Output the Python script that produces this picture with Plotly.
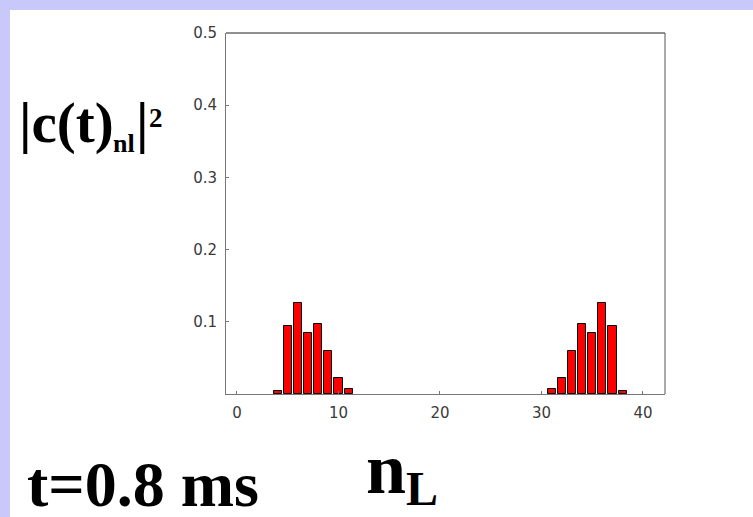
import plotly.graph_objects as go

# ---- data ----
n_levels = [4, 5, 6, 7, 8, 9, 10, 11, 31, 32, 33, 34, 35, 36, 37, 38]
populations = [0.004, 0.094, 0.126, 0.085, 0.097, 0.060, 0.022, 0.007,
               0.007, 0.022, 0.060, 0.097, 0.085, 0.126, 0.094, 0.004]
x_ticks = [0, 10, 20, 30, 40]
y_ticks = [0.1, 0.2, 0.3, 0.4, 0.5]
y_tick_text = ["0.1", "0.2", "0.3", "0.4", "0.5"]

W, H = 753, 517
L, R, T, B = 226, 665, 33, 394  # plot area in pixels

def px(x):
    return (x - L) / (R - L)

def py(y):
    return (B - y) / (B - T)

fig = go.Figure()
fig.add_trace(go.Bar(
    x=n_levels, y=populations, width=0.8,
    marker=dict(color="#ff0000", line=dict(color="#000000", width=1)),
    showlegend=False, hoverinfo="skip"))

tickfont = dict(family="DejaVu Sans", size=15, color="#3a3a3a")
fig.update_xaxes(range=[-1.08, 42.17], tickvals=x_ticks, ticks="inside", ticklen=3,
                 tickcolor="#777", showline=True, linecolor="#777", linewidth=1,
                 showgrid=False, zeroline=False, tickfont=tickfont, ticklabelstandoff=5)
fig.update_yaxes(range=[0, 0.5], tickvals=y_ticks, ticktext=y_tick_text, ticks="inside",
                 ticklen=3, tickcolor="#777", showline=True, linecolor="#777", linewidth=1,
                 showgrid=False, zeroline=False, tickfont=tickfont, ticklabelstandoff=5)

shapes = [
    # lavender background border strips
    dict(type="rect", xref="paper", yref="paper", x0=px(0), x1=px(W), y0=py(0), y1=py(10),
         fillcolor="#c8c8fa", line=dict(width=0), layer="below"),
    dict(type="rect", xref="paper", yref="paper", x0=px(0), x1=px(10), y0=py(0), y1=py(H),
         fillcolor="#c8c8fa", line=dict(width=0), layer="below"),
    # frame top and right
    dict(type="line", xref="paper", yref="paper", x0=0, x1=1, y0=1, y1=1,
         line=dict(color="#222", width=1)),
    dict(type="line", xref="paper", yref="paper", x0=1, x1=1, y0=0, y1=1,
         line=dict(color="#555", width=1)),
]

serif = "Liberation Serif"
def ann(text, x, y, size, xanchor="left", yanchor="middle", pad=1):
    return dict(text=text, x=px(x), y=py(y), xref="paper", yref="paper",
                xanchor=xanchor, yanchor=yanchor, showarrow=False, borderpad=pad,
                font=dict(family=serif, size=size, color="#000"))

annotations = [
    ann("<b>|c(t)</b>", 17, 123, 57),
    ann("<b>nl</b>", 112, 143, 26, pad=0),
    ann("<b>|</b>", 135, 123, 57, pad=0),
    ann("<b>2</b>", 148, 118, 27, pad=0),
    ann("<b>t=0.8 ms</b>", 25, 484, 64),
    ann("<b>n</b>", 364, 469, 72),
    ann("<b>L</b>", 404, 488, 48),
]

fig.update_layout(
    width=W, height=H,
    margin=dict(l=L, r=W - R, t=T, b=H - B, pad=0),
    paper_bgcolor="#ffffff", plot_bgcolor="#ffffff",
    bargap=0, shapes=shapes, annotations=annotations,
)

fig.write_html("out.html", config={"displayModeBar": False},
               post_script="document.body.style.margin='0px';document.body.style.overflow='hidden';")
